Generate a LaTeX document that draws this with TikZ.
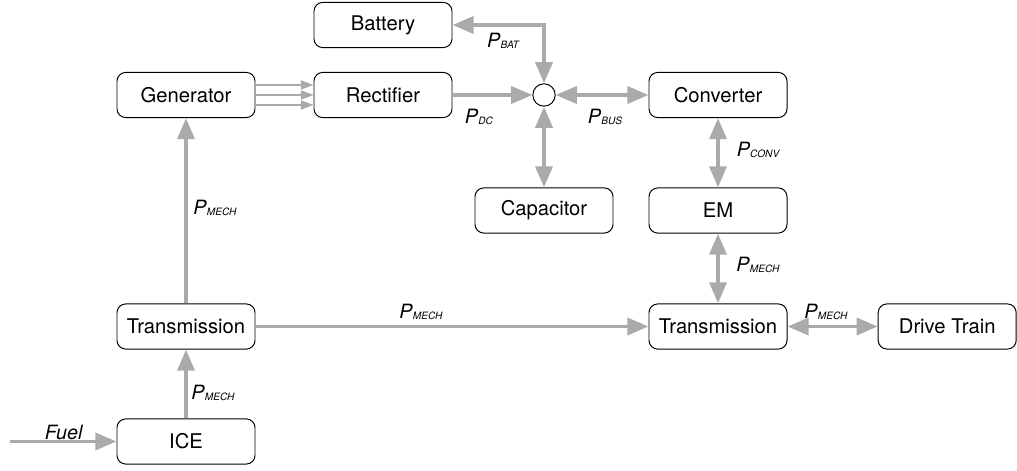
\documentclass[tikz,border=0pt]{standalone}
\usepackage{fontspec}
\setmainfont{TeX Gyre Heros}
\usetikzlibrary{arrows.meta}
\definecolor{flowgray}{RGB}{170,170,170}
\newcommand{\pwr}[1]{\textit{P}\raisebox{-0.8pt}{\fontsize{7.2}{8}\selectfont\itshape #1}}
\tikzset{
  block/.style={draw,rounded corners=0.22cm,line width=0.7pt,
    minimum width=3.45cm,minimum height=1.13cm,inner sep=0pt,
    font=\fontsize{14.4}{17}\selectfont},
  flow/.style={draw=flowgray,line width=2.7pt,
    arrows={-Triangle[length=15pt,width=12pt]}},
  flowboth/.style={flow,arrows={Triangle[length=15pt,width=12pt]-Triangle[length=15pt,width=12pt]}},
  phase/.style={draw=flowgray,line width=0.9pt,
    -{Triangle[length=9pt,width=6.5pt]}},
  lbl/.style={font=\fontsize{14}{16}\selectfont,inner sep=0pt}
}
\begin{document}
\begin{tikzpicture}[x=1cm,y=1cm]
  \useasboundingbox (0,0) rectangle (25.425,11.775);
  \node[block] (bat) at (9.575,11.15) {Battery};
  \node[block] (gen) at (4.65,9.4) {Generator};
  \node[block] (rect) at (9.575,9.4) {Rectifier};
  \node[draw,circle,line width=0.7pt,minimum size=0.56cm,inner sep=0pt]
    (bus) at (13.6,9.4) {};
  \node[block] (conv) at (17.95,9.4) {Converter};
  \node[block] (cap) at (13.6,6.5125) {Capacitor};
  \node[block] (em) at (17.95,6.5125) {EM};
  \node[block] (transl) at (4.65,3.6125) {Transmission};
  \node[block] (transr) at (17.95,3.6125) {Transmission};
  \node[block] (drive) at (23.68,3.6125) {Drive Train};
  \node[block] (ice) at (4.65,0.7375) {ICE};
  \coordinate (fuel) at (0.25,0.7375);
  \foreach \dy in {-0.25,0,0.25} {
    \draw[phase] ([yshift=\dy cm]gen.east) -- ([yshift=\dy cm]rect.west);
  }
  \draw[flowboth] (bus.north) |- (bat.east);
  \draw[flow] (rect.east) -- (bus.west);
  \draw[flowboth] (bus.east) -- (conv.west);
  \draw[flowboth] (bus.south) -- (cap.north);
  \draw[flowboth] (conv.south) -- (em.north);
  \draw[flowboth] (em.south) -- (transr.north);
  \draw[flow] (transl.north) -- (gen.south);
  \draw[flow] (transl.east) -- (transr.west);
  \draw[flowboth] (transr.east) -- (drive.west);
  \draw[flow] (ice.north) -- (transl.south);
  \draw[flow] (fuel) -- (ice.west);
  \node[lbl] (pbat) at (12.575,10.75) {\pwr{BAT}};
  \node[lbl] (pdc) at (11.975,8.85) {\pwr{DC}};
  \node[lbl] (pbus) at (15.125,8.85) {\pwr{BUS}};
  \node[lbl] (pconv) at (18.95,8.025) {\pwr{CONV}};
  \node[lbl] (pem) at (18.95,5.15) {\pwr{MECH}};
  \node[lbl] (pgen) at (5.375,6.575) {\pwr{MECH}};
  \node[lbl] (pshaft) at (10.525,3.975) {\pwr{MECH}};
  \node[lbl] (pdrive) at (20.65,3.975) {\pwr{MECH}};
  \node[lbl] (pice) at (5.325,1.95) {\pwr{MECH}};
  \node[lbl] (lfuel) at (1.6,0.975) {\textit{Fuel}};
\end{tikzpicture}
\end{document}
